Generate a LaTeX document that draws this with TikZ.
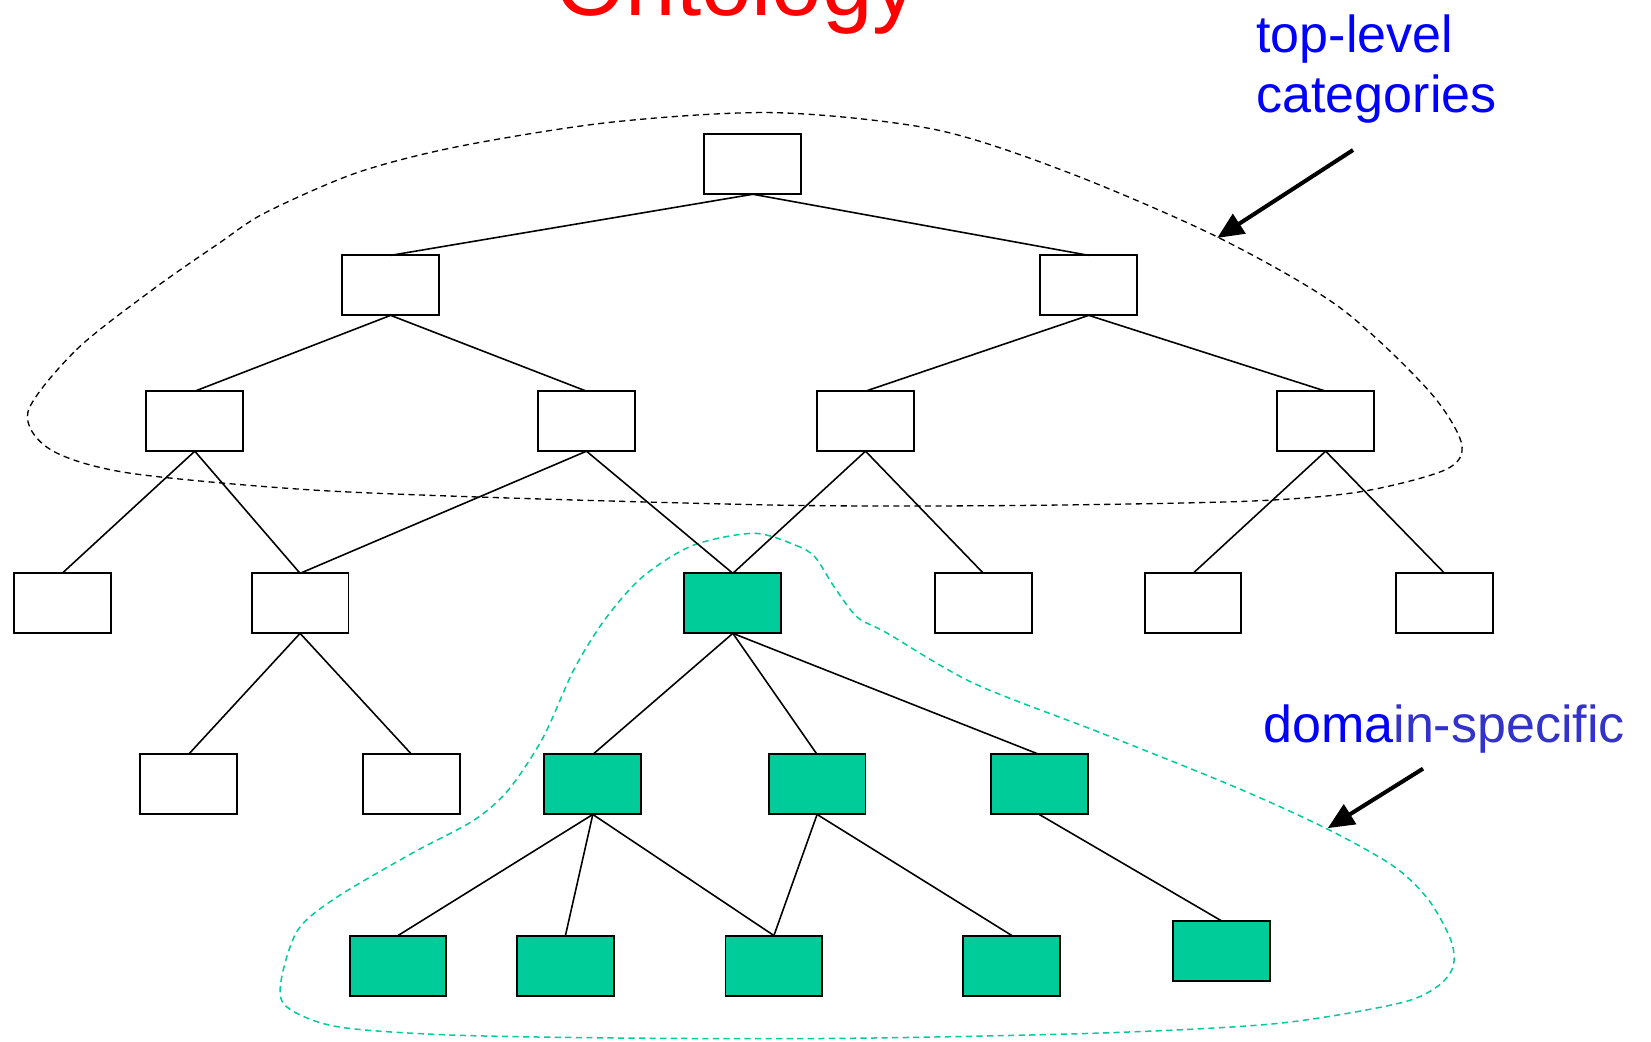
\documentclass[tikz,border=0pt]{standalone}
\usepackage{fontspec}
\setmainfont{Liberation Sans}
\usetikzlibrary{arrows.meta}
\definecolor{ontgreen}{RGB}{0,204,153}
\definecolor{lblblue}{RGB}{0,0,255}
\definecolor{lblblue2}{RGB}{51,51,204}
\tikzset{
  box/.style={draw, line width=1.1pt, minimum width=1.937cm, minimum height=1.2cm, inner sep=0pt, outer sep=0pt, fill=white},
  gbox/.style={box, fill=ontgreen},
  link/.style={line width=0.9pt},
  pointer/.style={line width=2.3pt, -{Triangle[length=15pt,width=13pt]}},
  lbl/.style={anchor=base west, inner sep=0pt, font=\fontsize{29.6}{34}\selectfont}
}
\begin{document}
\begin{tikzpicture}[x=0.021058cm, y=-0.021058cm]
\useasboundingbox (0,0) rectangle (1568,989);

% enclosing dashed regions
\draw[dash pattern=on 3.5pt off 2.5pt, line width=0.75pt] plot[smooth cycle] coordinates {
 (26.6,391) (72.7,332) (145,275) (208,231) (252,202) (339,164) (436,139) (581,116)
 (736,107) (888,123) (1015,164) (1156,225) (1271,291) (1356,370) (1388,421) (1373,446)
 (1292,467) (1185,476) (972,480) (756,480) (485,473) (291,465) (121,449) (48,427)};
\draw[ontgreen, dash pattern=on 3.5pt off 2.5pt, line width=0.85pt] plot[smooth cycle] coordinates {
 (716,506.5) (756,518) (774,529) (792,557) (814,586) (842,601) (925,649) (1048,697)
 (1172,747) (1260,787) (1324,823) (1357,855) (1378,893) (1380,918) (1365,937) (1328,953)
 (1213,972) (1048,981) (814,986) (610,986) (429,983) (320,975) (272,956) (267,931)
 (283,883) (320,852) (392,810) (450,779) (483,750) (516,700) (545,636) (574,589)
 (610,548) (658,518)};

% nodes
\node[box] (r) at (715,156) {};
\node[box] (a1) at (371,271) {};
\node[box] (a2) at (1034,271) {};
\node[box] (b1) at (185,400) {};
\node[box] (b2) at (557,400) {};
\node[box] (b3) at (822,400) {};
\node[box] (b4) at (1259,400) {};
\node[box] (c1) at (59,573) {};
\node[box] (c2) at (285,573) {};
\node[gbox] (c3) at (696,573) {};
\node[box] (c4) at (934,573) {};
\node[box] (c5) at (1133,573) {};
\node[box] (c6) at (1372,573) {};
\node[box] (d1) at (179,745) {};
\node[box] (d2) at (391,745) {};
\node[gbox] (d3) at (563,745) {};
\node[gbox] (d4) at (776,745) {};
\node[gbox] (d5) at (987,745) {};
\node[gbox] (e1) at (378,917) {};
\node[gbox] (e2) at (537,917) {};
\node[gbox] (e3) at (735,917) {};
\node[gbox] (e4) at (961,917) {};
\node[gbox] (e5) at (1160,903) {};

% links
\draw[link] (r.south) -- (a1.north);
\draw[link] (r.south) -- (a2.north);
\draw[link] (a1.south) -- (b1.north);
\draw[link] (a1.south) -- (b2.north);
\draw[link] (a2.south) -- (b3.north);
\draw[link] (a2.south) -- (b4.north);
\draw[link] (b1.south) -- (c1.north);
\draw[link] (b1.south) -- (c2.north);
\draw[link] (b2.south) -- (c2.north);
\draw[link] (b2.south) -- (c3.north);
\draw[link] (b3.south) -- (c3.north);
\draw[link] (b3.south) -- (c4.north);
\draw[link] (b4.south) -- (c5.north);
\draw[link] (b4.south) -- (c6.north);
\draw[link] (c2.south) -- (d1.north);
\draw[link] (c2.south) -- (d2.north);
\draw[link] (c3.south) -- (d3.north);
\draw[link] (c3.south) -- (d4.north);
\draw[link] (c3.south) -- (d5.north);
\draw[link] (d3.south) -- (e1.north);
\draw[link] (d3.south) -- (e2.north);
\draw[link] (d3.south) -- (e3.north);
\draw[link] (d4.south) -- (e3.north);
\draw[link] (d4.south) -- (e4.north);
\draw[link] (d5.south) -- (e5.north);

% title and labels
\node[anchor=base, inner sep=0pt, text=red, font=\fontsize{51.6}{60}\selectfont] (title) at (699.5,15) {Ontology};
\node[lbl, text=lblblue] (tl1) at (1193,49.4) {top-level};
\node[lbl, text=lblblue] (tl2) at (1193,107.3) {categories};
\node[lbl] (ds) at (1199.5,704.7) {\textcolor{lblblue}{doma}\textcolor{lblblue2}{in-specific}};

\coordinate (ta) at (1285,142.5);
\coordinate (tb) at (1156,226);
\coordinate (da) at (1351.5,730);
\coordinate (db) at (1261,786.5);
\draw[pointer] (ta) -- (tb);
\draw[pointer] (da) -- (db);
\end{tikzpicture}
\end{document}
